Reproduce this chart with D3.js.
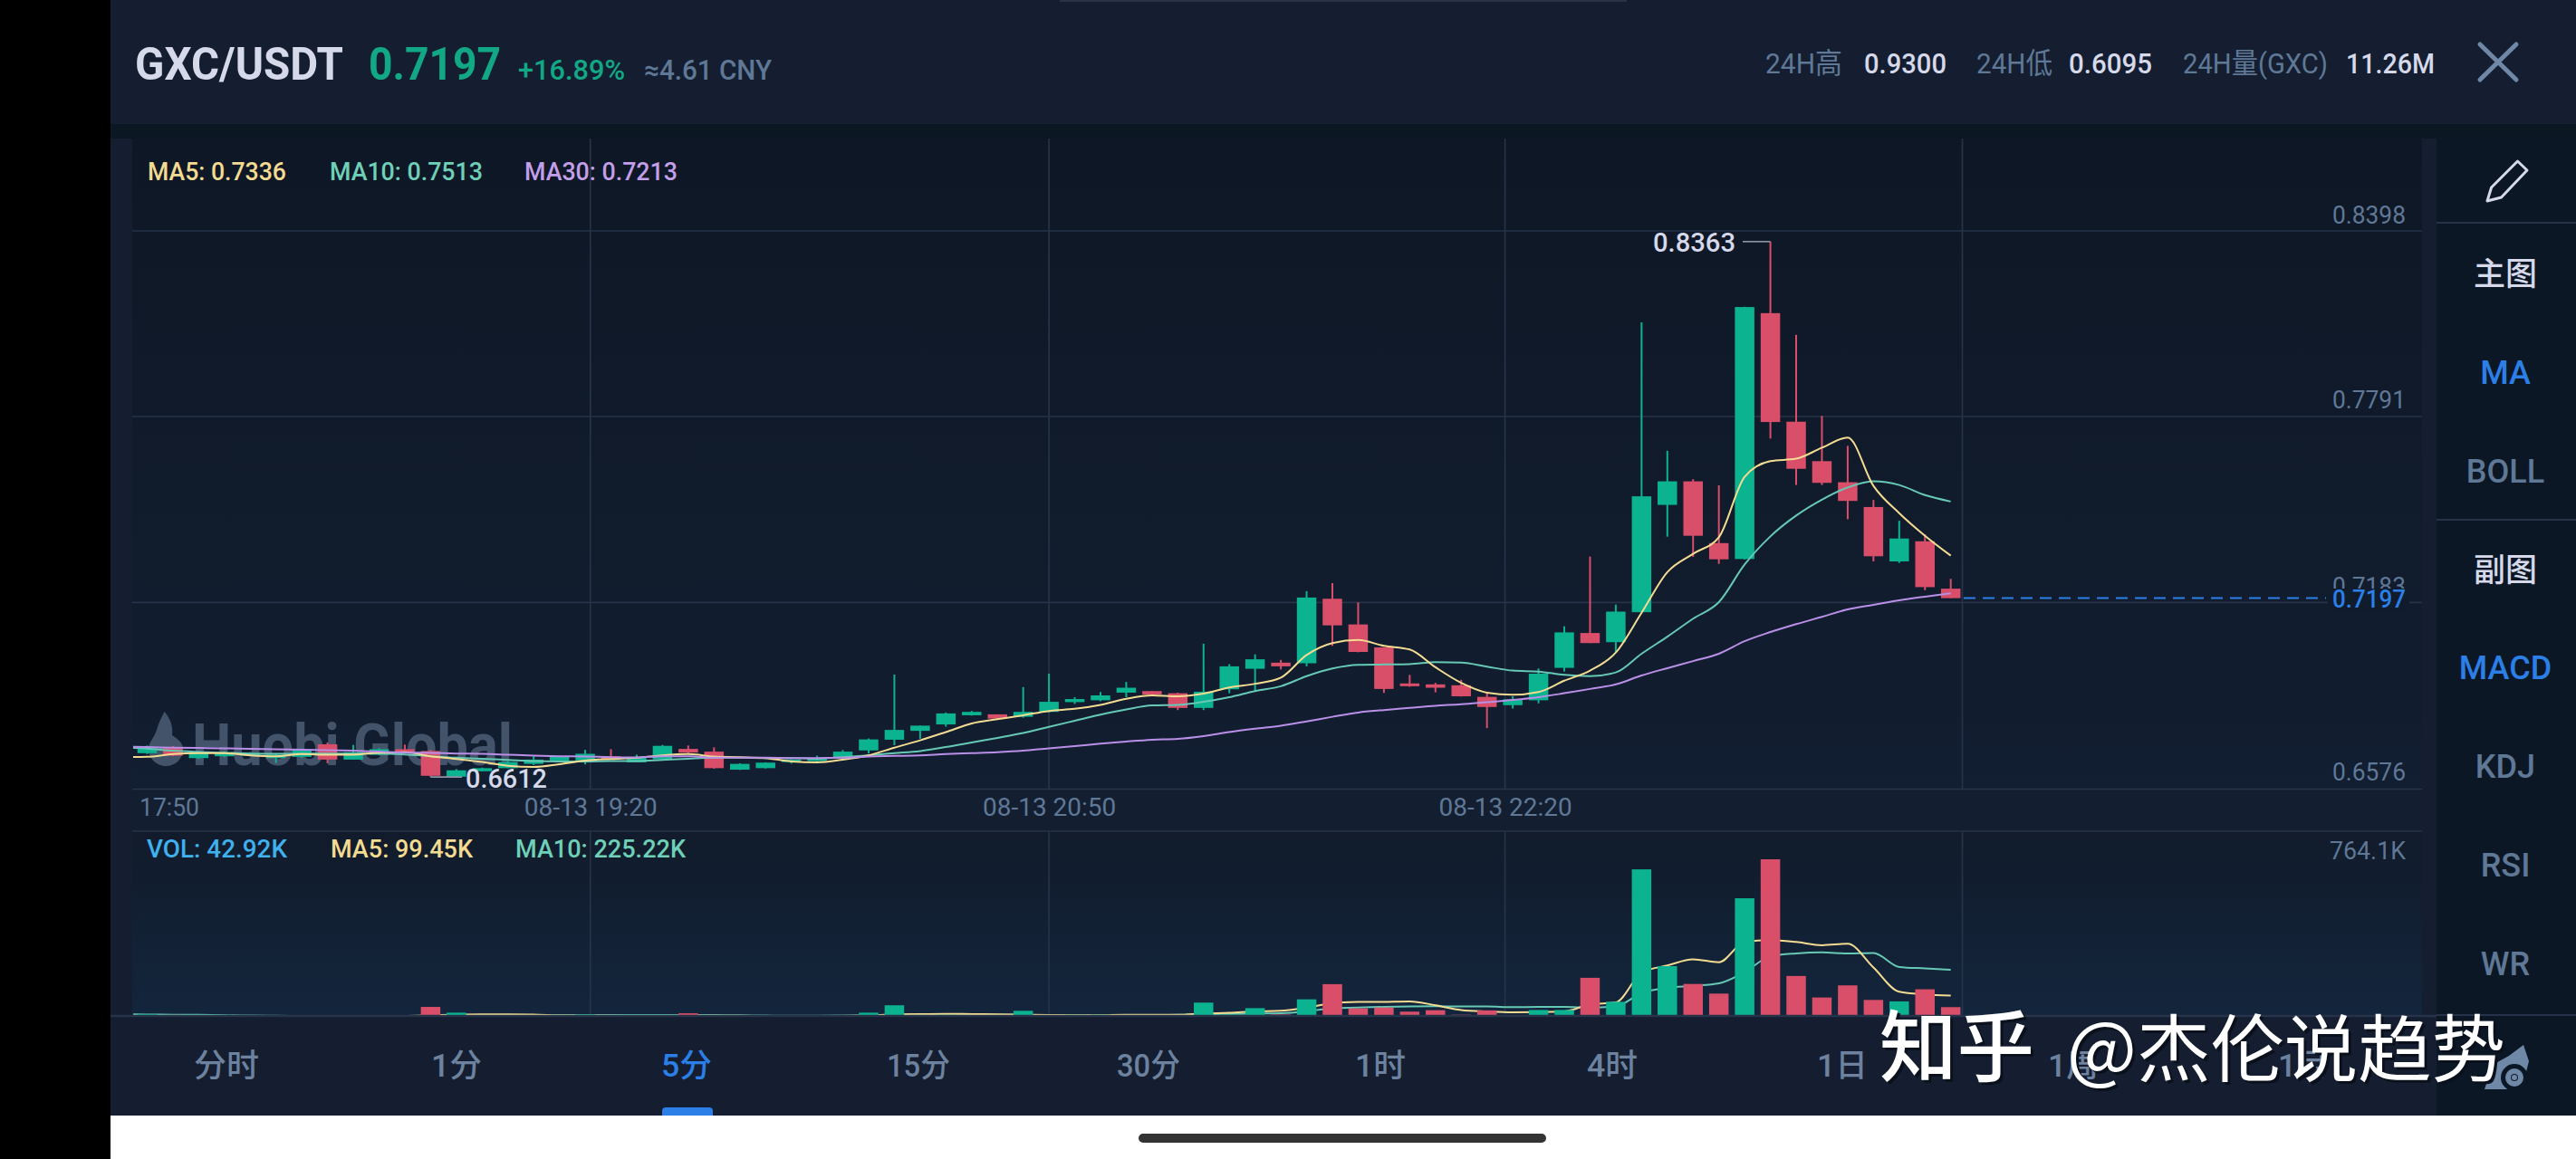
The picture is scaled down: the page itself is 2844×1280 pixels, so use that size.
<!DOCTYPE html>
<html><head><meta charset="utf-8">
<script src="https://cdnjs.cloudflare.com/ajax/libs/d3/7.8.5/d3.min.js"></script>
<style>html,body{margin:0;padding:0;background:#fff;overflow:hidden}svg{display:block}</style>
</head><body><svg id="c" width="2844" height="1280" viewBox="0 0 2844 1280"></svg>
<script>
const opens=[.6690,.6707,.6674,.6680,.6682,.6674,.6678,.6719,.6669,.6685,.6703,.6697,.6613,.6631,.6641,.6655,.6666,.6666,.6680,.6660,.6670,.6704,.6695,.6636,.6641,.6661,.6664,.6675,.6699,.6734,.6763,.6784,.6814,.6817,.6809,.6825,.6857,.6863,.6888,.6893,.6886,.6838,.6899,.6966,.6986,.6984,.7195,.7111,.7036,.6918,.6915,.6912,.6874,.6847,.6863,.6969,.7083,.7053,.7151,.7502,.7579,.7377,.7325,.8129,.7774,.7645,.7576,.7495,.7317,.7383,.7228];
const closes=[.6705,.6682,.6693,.6693,.6690,.6685,.6702,.6669,.6693,.6703,.6693,.6616,.6634,.6641,.6661,.6669,.6680,.6688,.6670,.6675,.6714,.6692,.6641,.6655,.6659,.6669,.6674,.6695,.6735,.6766,.6780,.6820,.6825,.6803,.6825,.6858,.6867,.6879,.6904,.6882,.6838,.6891,.6974,.6997,.6974,.7199,.7108,.7021,.6900,.6909,.6904,.6876,.6841,.6866,.6950,.7085,.7050,.7153,.7530,.7579,.7401,.7324,.8149,.7773,.7620,.7574,.7515,.7334,.7392,.7233,.7197];
const highs=[.6715,.6713,.6698,.6696,.6693,.6687,.6705,.6725,.6717,.6706,.6718,.6701,.6638,.6643,.6664,.6682,.6682,.6701,.6703,.6685,.6717,.6715,.6709,.6657,.6660,.6671,.6682,.6700,.6738,.6947,.6780,.6823,.6828,.6817,.6906,.6950,.6873,.6890,.6923,.6893,.6888,.7048,.6981,.7013,.6995,.7220,.7246,.7183,.7036,.6946,.6920,.6930,.6886,.6876,.6967,.7105,.7333,.7176,.8099,.7679,.7586,.7566,.8150,.8363,.8058,.7793,.7695,.7518,.7450,.7406,.7260];
const lows=[.6687,.6680,.6671,.6677,.6680,.6658,.6675,.6657,.6669,.6683,.6692,.6612,.6612,.6630,.6641,.6651,.6665,.6653,.6670,.6660,.6668,.6690,.6639,.6635,.6640,.6656,.6661,.6670,.6689,.6716,.6737,.6777,.6813,.6799,.6806,.6823,.6851,.6860,.6873,.6880,.6831,.6831,.6886,.6893,.6964,.6974,.7041,.7020,.6887,.6907,.6889,.6875,.6772,.6836,.6853,.6957,.7050,.7020,.7151,.7398,.7332,.7309,.7323,.7719,.7567,.7567,.7455,.7317,.7312,.7223,.7197];
const ma5=[.6678,.6687,.6690,.6690,.6683,.6680,.6687,.6685,.6685,.6692,.6693,.6680,.6671,.6661,.6649,.6645,.6654,.6666,.6671,.6675,.6683,.6687,.6679,.6677,.6674,.6663,.6660,.6669,.6683,.6708,.6732,.6759,.6787,.6801,.6814,.6828,.6835,.6848,.6868,.6879,.6876,.6885,.6905,.6917,.6937,.7011,.7050,.7060,.7041,.7029,.6971,.6920,.6888,.6881,.6890,.6927,.6960,.7019,.7149,.7282,.7342,.7396,.7594,.7645,.7653,.7689,.7722,.7564,.7475,.7401,.7336];
const ma10=[.6705,.6698,.6694,.6691,.6689,.6688,.6688,.6689,.6689,.6689,.6686,.6680,.6675,.6672,.6668,.6664,.6663,.6663,.6664,.6664,.6668,.6672,.6675,.6675,.6674,.6674,.6672,.6677,.6683,.6690,.6697,.6710,.6725,.6740,.6756,.6776,.6796,.6816,.6833,.6846,.6848,.6858,.6873,.6893,.6909,.6942,.6967,.6979,.6980,.6981,.6988,.6986,.6973,.6960,.6957,.6946,.6942,.6954,.7015,.7071,.7130,.7184,.7307,.7399,.7467,.7519,.7559,.7579,.7567,.7534,.7513];
const ma30=[.6710,.6708,.6707,.6706,.6704,.6703,.6701,.6700,.6698,.6695,.6692,.6691,.6689,.6688,.6685,.6682,.6680,.6679,.6677,.6676,.6680,.6680,.6675,.6675,.6675,.6674,.6674,.6675,.6679,.6681,.6683,.6687,.6690,.6693,.6698,.6706,.6713,.6721,.6728,.6734,.6737,.6746,.6759,.6770,.6780,.6794,.6809,.6823,.6831,.6838,.6845,.6850,.6857,.6864,.6873,.6886,.6900,.6915,.6944,.6968,.6991,.7015,.7056,.7086,.7112,.7136,.7160,.7175,.7190,.7202,.7213];
// the value of each average one bar before the first visible candle (lines run out of the pane's left edge)
const ma5Before=.6677, ma10Before=.6708, ma30Before=.6711, volMa5Before=0, volMa10Before=8;
const volumes=[8,5,3,2,1,1,1,1,1,1,2,44,16,3,2,3,2,7,3,3,2,13,3,2,2,1,2,3,16,52,5,5,4,4,25,3,5,6,4,3,3,65,7,38,7,81,155,37,41,21,28,6,27,3,29,29,186,69,715,243,156,109,574,764.1,195,90,149,78,71,130,42.92];
const volMa5=[0,0,0,0,0,0,0,0,0,0,0,3,7,8,8,7,2,1,1,0,0,1,1,1,0,0,0,0,2,8,9,10,9,8,6,4,3,4,5,5,5,12,15,22,25,41,62,68,69,71,52,29,22,18,19,22,56,66,211,246,276,262,361,370,361,345,352,236,118,105,99.45];
const volMa10=[7,6,5,3,2,1,0,0,0,0,0,1,3,3,3,3,4,4,4,4,4,4,4,3,2,1,1,2,3,6,7,7,7,6,5,4,4,3,3,3,5,7,9,12,13,22,38,41,44,46,47,46,46,43,44,44,41,47,111,137,147,159,214,291,305,310,305,307,239,232,225.22];
const priceTicks=[0.8398,0.7791,0.7183,0.6576];
const volTickLabel="764.1K";
const gridIndex=[17.2,35,52.7,70.45];
const timeLabels=["08-13 19:20","08-13 20:50","08-13 22:20"];
const firstTime="17:50";
const tabs=["分时","1分","5分","15分","30分","1时","4时","1日","1周","1月"];
const sideItems=["主图","MA","BOLL","副图","MACD","KDJ","RSI","WR"];

const GREEN="#0cb391",RED="#d94e69",YEL="#f3dc92",TEAL="#66c9b5",PUR="#b98fe8",MUTED="#5f7896",LIGHT="#d5d9ea",BLUE="#2b7fe6",GRID="#263348";
const LAT="Roboto,'Noto Sans',sans-serif",CJK="Roboto,'Noto Sans CJK SC',sans-serif";
const svg=d3.select("#c");
const x=d3.scaleLinear().domain([0,70]).range([162.5,2153.7]);
const y=d3.scaleLinear().domain([0.8398,0.6576]).range([255,870.3]);
const v=d3.scaleLinear().domain([0,764.1]).range([1122,949]);
const idx=d3.range(opens.length);
const bodyW=21.5;

function txt(g,o){const t=g.append("text").attr("x",o.x).attr("y",o.y).text(o.s)
  .attr("font-family",o.font||LAT).attr("font-size",o.size).attr("fill",o.fill)
  .attr("font-weight",o.w||400).attr("text-anchor",o.a||"start");
  if(o.len)t.attr("textLength",o.len).attr("lengthAdjust","spacingAndGlyphs");return t;}

const defs=svg.append("defs");
function grad(id,y1,y2,c1,c2){const g=defs.append("linearGradient").attr("id",id).attr("gradientUnits","userSpaceOnUse").attr("x1",0).attr("y1",y1).attr("x2",0).attr("y2",y2);
  g.append("stop").attr("offset",0).attr("stop-color",c1);g.append("stop").attr("offset",1).attr("stop-color",c2);}
grad("bgMain",153,872,"#0e1725","#121e31");
grad("bgVol",918,1122,"#111b2b","#13253c");
defs.append("clipPath").attr("id","pane").append("rect").attr("x",147).attr("y",153).attr("width",2527).attr("height",969);

// backgrounds
svg.append("rect").attr("width",2844).attr("height",1280).attr("fill","#fff");
svg.append("rect").attr("width",122).attr("height",1280).attr("fill","#000");
svg.append("rect").attr("x",122).attr("width",2722).attr("height",1232).attr("fill","#141e30");
svg.append("rect").attr("x",1170).attr("y",0).attr("width",626).attr("height",2).attr("fill","#2a3345");
svg.append("rect").attr("x",122).attr("y",137).attr("width",2722).attr("height",16).attr("fill","#0c1724");
svg.append("rect").attr("x",146).attr("y",153).attr("width",2528).attr("height",719).attr("fill","url(#bgMain)");
svg.append("rect").attr("x",146).attr("y",872).attr("width",2528).attr("height",46).attr("fill","#131f31");
svg.append("rect").attr("x",146).attr("y",918).attr("width",2528).attr("height",204).attr("fill","url(#bgVol)");
svg.append("rect").attr("x",2690).attr("y",153).attr("width",154).attr("height",1079).attr("fill","#0c1725");
[246,574,1121].forEach(p=>svg.append("line").attr("x1",2690).attr("x2",2844).attr("y1",p).attr("y2",p).attr("stroke","#25324a").attr("stroke-width",2));
svg.append("rect").attr("x",1257).attr("y",1252).attr("width",450).attr("height",10).attr("rx",5).attr("fill","#333");

// header
const h=svg.append("g");
txt(h,{x:149,y:88,s:"GXC/USDT",size:50,fill:LIGHT,w:700,len:230});
txt(h,{x:407,y:88,s:"0.7197",size:50,fill:"#12a886",w:700,len:146});
txt(h,{x:572,y:88,s:"+16.89%",size:31,fill:"#12a886",w:500,len:118});
txt(h,{x:711,y:88,s:"≈4.61 CNY",size:31,fill:MUTED,w:500,len:141});
txt(h,{x:1949,y:81,s:"24H高",size:32,fill:MUTED,font:CJK,len:85});
txt(h,{x:2058,y:81,s:"0.9300",size:31,fill:LIGHT,w:500,len:91});
txt(h,{x:2182,y:81,s:"24H低",size:32,fill:MUTED,font:CJK,len:84});
txt(h,{x:2284,y:81,s:"0.6095",size:31,fill:LIGHT,w:500,len:92});
txt(h,{x:2410,y:81,s:"24H量(GXC)",size:32,fill:MUTED,font:CJK,len:160});
txt(h,{x:2590,y:81,s:"11.26M",size:31,fill:LIGHT,w:500,len:98});
svg.append("path").attr("d","M2738 49L2778 88M2778 49L2738 88").attr("stroke","#6f88a8").attr("stroke-width",5).attr("stroke-linecap","round");
svg.append("polygon").attr("points","2779.5,178 2790,188 2761.5,218 2746,222 2750.6,207").attr("fill","none").attr("stroke",LIGHT).attr("stroke-width",3).attr("stroke-linejoin","round");

// grid
const grid=svg.append("g").attr("stroke",GRID).attr("stroke-width",1.7);
grid.selectAll(".hg").data(priceTicks.slice(0,3)).join("line").attr("x1",146).attr("x2",2674).attr("y1",d=>y(d)).attr("y2",d=>y(d));
[871.5,918].forEach(p=>grid.append("line").attr("x1",146).attr("x2",2674).attr("y1",p).attr("y2",p));
gridIndex.forEach(d=>{grid.append("line").attr("x1",x(d)).attr("x2",x(d)).attr("y1",153).attr("y2",871);
  grid.append("line").attr("x1",x(d)).attr("x2",x(d)).attr("y1",918).attr("y2",1122);});

// huobi watermark
const wm=svg.append("g").attr("fill","#43546a");
wm.append("path").attr("d","M181.7 786C190 796 191 806 190 812C196 816 202 820 202 827C202 838 194 846 183 846C172 846 163 836 164 825C166 818 171 813 173 806C175 799 178 792 181.7 786Z");
txt(wm,{x:212,y:845,s:"Huobi Global",size:64,fill:"#43546a",w:700,len:354});

// candles
const cg=svg.append("g");
cg.selectAll(".w").data(idx).join("line").attr("x1",i=>x(i)).attr("x2",i=>x(i))
  .attr("y1",i=>y(highs[i])).attr("y2",i=>y(lows[i])).attr("stroke-width",2)
  .attr("stroke",i=>closes[i]>=opens[i]?GREEN:RED);
cg.selectAll(".b").data(idx).join("rect").attr("x",i=>x(i)-bodyW/2).attr("width",bodyW)
  .attr("y",i=>y(Math.max(opens[i],closes[i])))
  .attr("height",i=>Math.max(2,Math.abs(y(opens[i])-y(closes[i]))))
  .attr("fill",i=>closes[i]>=opens[i]?GREEN:RED);

// MA lines: one extra leading point, clipped at the pane's left edge
const line=(s,arr,before)=>d3.line().x((d,i)=>x(i-1)).y(d=>s(d)).curve(d3.curveMonotoneX)([before,...arr]);
const clipped=svg.append("g").attr("clip-path","url(#pane)");
[[ma10,ma10Before,TEAL],[ma5,ma5Before,YEL],[ma30,ma30Before,PUR]].forEach(([a,b,c])=>clipped.append("path").attr("d",line(y,a,b)).attr("fill","none").attr("stroke",c).attr("stroke-width",2));

// hi / lo annotations
const hiI=highs.indexOf(d3.max(highs)),loI=lows.indexOf(d3.min(lows));
const ann=svg.append("g").attr("fill","none").attr("stroke","#8e94a8").attr("stroke-width",1.6);
ann.append("line").attr("x1",1924).attr("x2",x(hiI)).attr("y1",y(highs[hiI])).attr("y2",y(highs[hiI]));
ann.append("line").attr("x1",x(loI)).attr("x2",510).attr("y1",y(lows[loI])).attr("y2",y(lows[loI]));
txt(svg,{x:1825,y:278,s:d3.format(".4f")(highs[hiI]),size:30,fill:LIGHT,w:500,len:91});
txt(svg,{x:514,y:870,s:d3.format(".4f")(lows[loI]),size:30,fill:LIGHT,w:500,len:90});

// current price
const lastClose=closes[closes.length-1];
svg.append("line").attr("x1",2168).attr("x2",2568).attr("y1",y(lastClose)).attr("y2",y(lastClose))
  .attr("stroke",BLUE).attr("stroke-width",2).attr("stroke-dasharray","13,8");

// price axis
const pa=svg.append("g").attr("transform","translate(2674,0)").call(d3.axisLeft(y).tickValues(priceTicks).tickSize(0).tickPadding(18).tickFormat(d3.format(".4f")));
pa.select(".domain").remove();
pa.selectAll("text").attr("dy",-9).attr("font-family",LAT).attr("font-size",27).attr("fill",MUTED).attr("textLength",81).attr("lengthAdjust","spacingAndGlyphs");
svg.append("rect").attr("x",2570).attr("y",650).attr("width",90).attr("height",25).attr("fill","#101b2c");
txt(svg,{x:2656,y:671,s:d3.format(".4f")(lastClose),size:27,fill:BLUE,w:500,a:"end",len:81});
txt(svg,{x:2656,y:949,s:volTickLabel,size:27,fill:MUTED,a:"end",len:84});

// time axis
const ta=svg.append("g").attr("transform","translate(0,875)").call(d3.axisBottom(x).tickValues(gridIndex.slice(0,3)).tickSize(0).tickPadding(0).tickFormat((d,i)=>timeLabels[i]));
ta.select(".domain").remove();
ta.selectAll("text").attr("y",26).attr("dy",0).attr("font-family",LAT).attr("font-size",27).attr("fill",MUTED).attr("textLength",147).attr("lengthAdjust","spacingAndGlyphs");
txt(svg,{x:154,y:901,s:firstTime,size:27,fill:MUTED,len:66});

// legends
txt(svg,{x:163,y:199,s:"MA5: 0.7336",size:28,fill:YEL,w:500,len:153});
txt(svg,{x:364,y:199,s:"MA10: 0.7513",size:28,fill:"#6fd0b8",w:500,len:169});
txt(svg,{x:579,y:199,s:"MA30: 0.7213",size:28,fill:"#c29fe8",w:500,len:169});
txt(svg,{x:162,y:947,s:"VOL: 42.92K",size:28,fill:"#3fb1ee",w:500,len:155});
txt(svg,{x:365,y:947,s:"MA5: 99.45K",size:28,fill:YEL,w:500,len:157});
txt(svg,{x:569,y:947,s:"MA10: 225.22K",size:28,fill:"#6fd0b8",w:500,len:188});

// volume
svg.append("g").selectAll("rect").data(idx).join("rect").attr("x",i=>x(i)-bodyW/2).attr("width",bodyW)
  .attr("y",i=>v(volumes[i])).attr("height",i=>v(0)-v(volumes[i]))
  .attr("fill",i=>closes[i]>=opens[i]?GREEN:RED);
[[volMa10,volMa10Before,TEAL],[volMa5,volMa5Before,YEL]].forEach(([a,b,c])=>clipped.append("path").attr("d",line(v,a,b)).attr("fill","none").attr("stroke",c).attr("stroke-width",2));
// bottom edge of the volume pane sits over the near-zero parts of the averages
svg.append("line").attr("x1",122).attr("x2",2690).attr("y1",1122).attr("y2",1122).attr("stroke",GRID).attr("stroke-width",2.4);

// side panel
const sideY=[303,412,521,630,738,847,956,1065],sideCol=[LIGHT,BLUE,MUTED,LIGHT,BLUE,MUTED,MUTED,MUTED];
sideItems.forEach((s,i)=>{txt(svg,{x:2766,y:sideY[i]+12,s,size:/^[A-Z]/.test(s)?36:35,fill:sideCol[i],w:500,a:"middle",font:CJK});});

// tabs
const tabX=[250,504,758,1014,1268,1524,1780,2034,2289,2543];
tabs.forEach((s,i)=>txt(svg,{x:tabX[i],y:1189,s,size:35,fill:i==2?BLUE:"#6c829f",w:500,a:"middle",font:CJK,len:s.length==2&&/^\d/.test(s)?56:(s.length==3?70:72)}));
svg.append("path").attr("d","M731 1232V1227Q731 1223 735 1223H783Q787 1223 787 1227V1232Z").attr("fill",BLUE);

// bottom right icon
svg.append("path").attr("d","M2743 1203L2752 1176L2770 1166L2786 1154L2792 1172L2784 1203Z").attr("fill","#6f88a8");
svg.append("circle").attr("cx",2776).attr("cy",1190).attr("r",9).attr("fill","none").attr("stroke","#0c1725").attr("stroke-width",12);
svg.append("circle").attr("cx",2776).attr("cy",1190).attr("r",7).attr("fill","none").attr("stroke","#6f88a8").attr("stroke-width",6);

// zhihu mark
const ZF="'Noto Sans CJK SC',sans-serif";
[[3,3,"#0b111c"],[0,0,"#fff"]].forEach(([dx,dy,c])=>{
  txt(svg,{x:2075+dx,y:1188+dy,s:"知乎",size:86,fill:c,w:500,font:ZF,len:171});
  txt(svg,{x:2282+dx,y:1188+dy,s:"@杰伦说趋势",size:81,fill:c,font:ZF,len:484});
});
</script></body></html>
